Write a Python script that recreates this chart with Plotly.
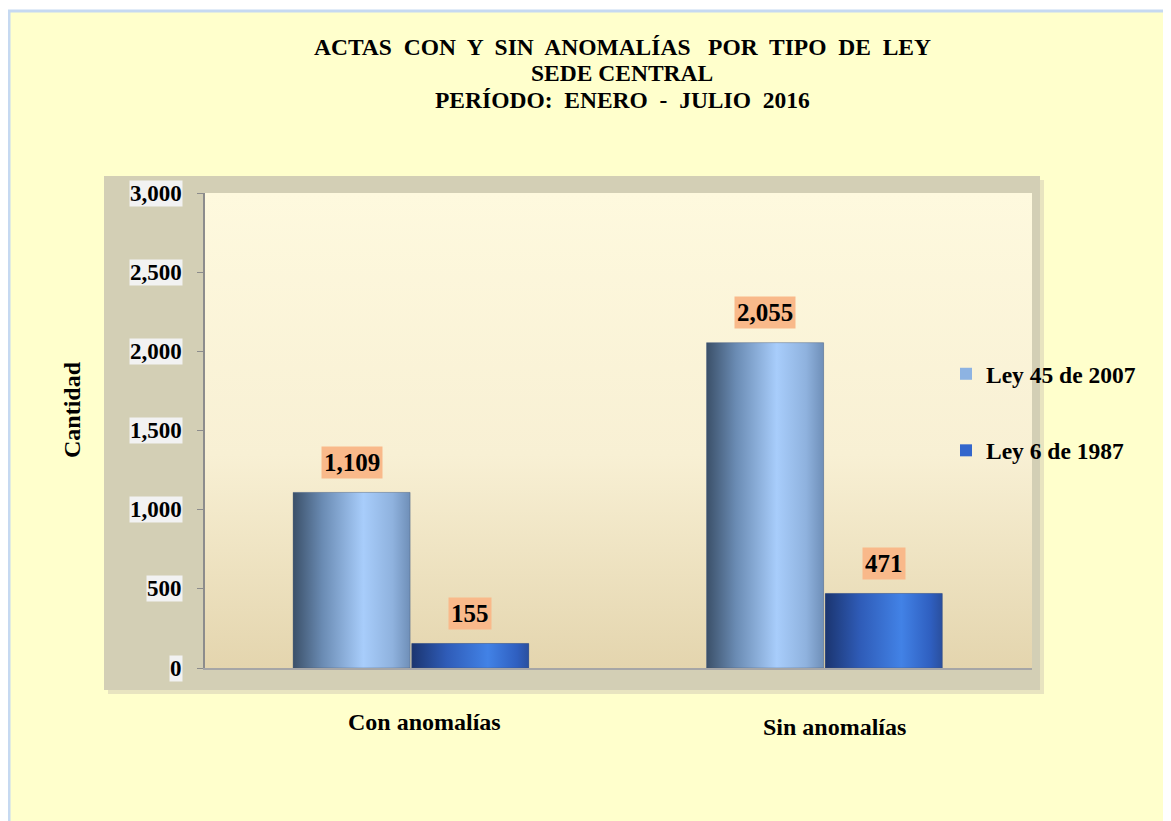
import plotly.graph_objects as go

# --- data ---
categories = ["Con anomalías", "Sin anomalías"]
series_names = ["Ley 45 de 2007", "Ley 6 de 1987"]
ley45_values = [1109, 2055]
ley6_values = [155, 471]
y_ticks = [0, 500, 1000, 1500, 2000, 2500, 3000]

FONT = "Liberation Serif"
W, H = 1171, 821
OFF = 8  # page body margin
# plot area in screenshot pixels
L, R, T, B = 205, 1032, 193, 668

# cylinder-like shading for each series (left -> right)
shades = {
    "Ley 45 de 2007": [[0, "#3b5069"], [0.25, "#6a8bb3"], [0.6, "#a8cdfb"], [0.85, "#8fb2de"], [1, "#6f8fb8"]],
    "Ley 6 de 1987": [[0, "#1b3570"], [0.3, "#2f5cb8"], [0.65, "#4282e6"], [0.9, "#2f5fc0"], [1, "#2a4f9e"]],
}
legend_colors = {"Ley 45 de 2007": "#8db3e2", "Ley 6 de 1987": "#3366cc"}

bar_w = 0.283
offsets = [-0.287, 0.0]
series = [ley45_values, ley6_values]


def px_x(p):
    return (p - L) / (R - L)


def px_y(p):
    return (B - p) / (B - T)


fig = go.Figure()

# plot background gradient on the base axes
fig.add_trace(go.Scatter(
    x=[0, 1, 1, 0, 0], y=[0, 0, 1, 1, 0], mode="lines", line=dict(width=0),
    fill="toself", fillgradient=dict(type="vertical", colorscale=[[0, "#e4d5ae"], [0.45, "#f8f0d4"], [1, "#fef9de"]]),
    hoverinfo="skip", showlegend=False, xaxis="x", yaxis="y",
))

xs = list(range(len(categories)))
for name, vals, off in zip(series_names, series, offsets):
    fig.add_trace(go.Bar(
        x=xs, y=vals, name=f"<b>{name}</b>", width=bar_w, offset=off,
        marker=dict(color=legend_colors[name], line=dict(width=0)),
        xaxis="x2", yaxis="y2", legendgroup=name,
    ))
    # shading overlay for each bar
    for xi, v in zip(xs, vals):
        x0, x1 = xi + off, xi + off + bar_w
        fig.add_trace(go.Scatter(
            x=[x0, x1, x1, x0, x0], y=[0, 0, v, v, 0], mode="lines",
            line=dict(width=1, color="rgba(70,80,100,0.35)"),
            fill="toself", fillgradient=dict(type="horizontal", colorscale=shades[name]),
            hoverinfo="skip", showlegend=False, xaxis="x2", yaxis="y2",
        ))
    # value labels
    for xi, v in zip(xs, vals):
        fig.add_annotation(
            x=xi + off + bar_w / 2, y=v, xref="x2", yref="y2", yshift=30,
            text=f"<b>{v:,}</b>", showarrow=False,
            font=dict(family=FONT, size=25, color="black"),
            bgcolor="#f9b98a", borderpad=2,
        )

# y tick labels with light boxes
for v in y_ticks:
    fig.add_annotation(
        x=px_x(183), y=v, xref="paper", yref="y2", xanchor="right", yanchor="middle",
        text=f"<b>{v:,}</b>", showarrow=False,
        font=dict(family=FONT, size=23, color="black"), bgcolor="#f2f2f2", borderpad=0,
    )

# category labels below the panel
for xi, c, cx, cy in zip(xs, categories, [424, 834], [722, 727]):
    fig.add_annotation(
        x=px_x(cx), y=px_y(cy), xref="paper", yref="paper", xanchor="center", yanchor="middle",
        text=f"<b>{c}</b>", showarrow=False, font=dict(family=FONT, size=24, color="black"),
    )

shapes = [
    # page background
    dict(type="rect", xref="paper", yref="paper", x0=px_x(9), x1=px_x(1185), y0=px_y(835), y1=px_y(11),
         fillcolor="#ffffcc", line=dict(color="#c6d9f1", width=3), layer="below"),
    # panel shadow
    dict(type="rect", xref="paper", yref="paper", x0=px_x(108), x1=px_x(1044), y0=px_y(694), y1=px_y(180),
         fillcolor="#e8e4c0", line=dict(width=0), layer="below"),
    # panel
    dict(type="rect", xref="paper", yref="paper", x0=px_x(104), x1=px_x(1040), y0=px_y(690), y1=px_y(176),
         fillcolor="#d3cfb5", line=dict(width=0), layer="below"),
]

titles = [
    ("ACTAS  CON  Y  SIN  ANOMALÍAS   POR  TIPO  DE  LEY", 47),
    ("SEDE CENTRAL", 73),
    ("PERÍODO:  ENERO  -  JULIO  2016", 100),
]
for txt, yy in titles:
    fig.add_annotation(x=px_x(622), y=px_y(yy), xref="paper", yref="paper", text=f"<b>{txt}</b>",
                       showarrow=False, font=dict(family=FONT, size=23.5, color="black"),
                       xanchor="center", yanchor="middle")

fig.add_annotation(x=px_x(72), y=px_y(410), xref="paper", yref="paper", text="<b>Cantidad</b>",
                   showarrow=False, textangle=-90, xanchor="center", yanchor="middle",
                   font=dict(family=FONT, size=24, color="black"))

fig.update_layout(
    width=W, height=H,
    margin=dict(l=L - OFF, r=W - (R - OFF), t=T - OFF, b=H - (B - OFF)),
    paper_bgcolor="white", plot_bgcolor="rgba(0,0,0,0)",
    shapes=shapes,
    showlegend=True,
    legend=dict(x=px_x(946), y=px_y(352), xanchor="left", yanchor="top", bgcolor="rgba(0,0,0,0)",
                font=dict(family=FONT, size=23.5, color="black"), tracegroupgap=43, itemwidth=30),
    xaxis=dict(range=[0, 1], visible=False, fixedrange=True),
    yaxis=dict(range=[0, 1], visible=False, fixedrange=True),
    xaxis2=dict(overlaying="x", range=[-0.5, 1.5], tickvals=xs, showticklabels=False,
                showline=True, linecolor="#a6a6a6",
                linewidth=2, ticks="", showgrid=False, zeroline=False),
    yaxis2=dict(overlaying="y", range=[0, 3000], tickvals=y_ticks, showticklabels=False,
                showline=True, linecolor="#8c8c8c",
                linewidth=2, ticks="outside", ticklen=6, tickcolor="#8c8c8c", showgrid=False,
                zeroline=False),
)

fig.write_html("out.html")
